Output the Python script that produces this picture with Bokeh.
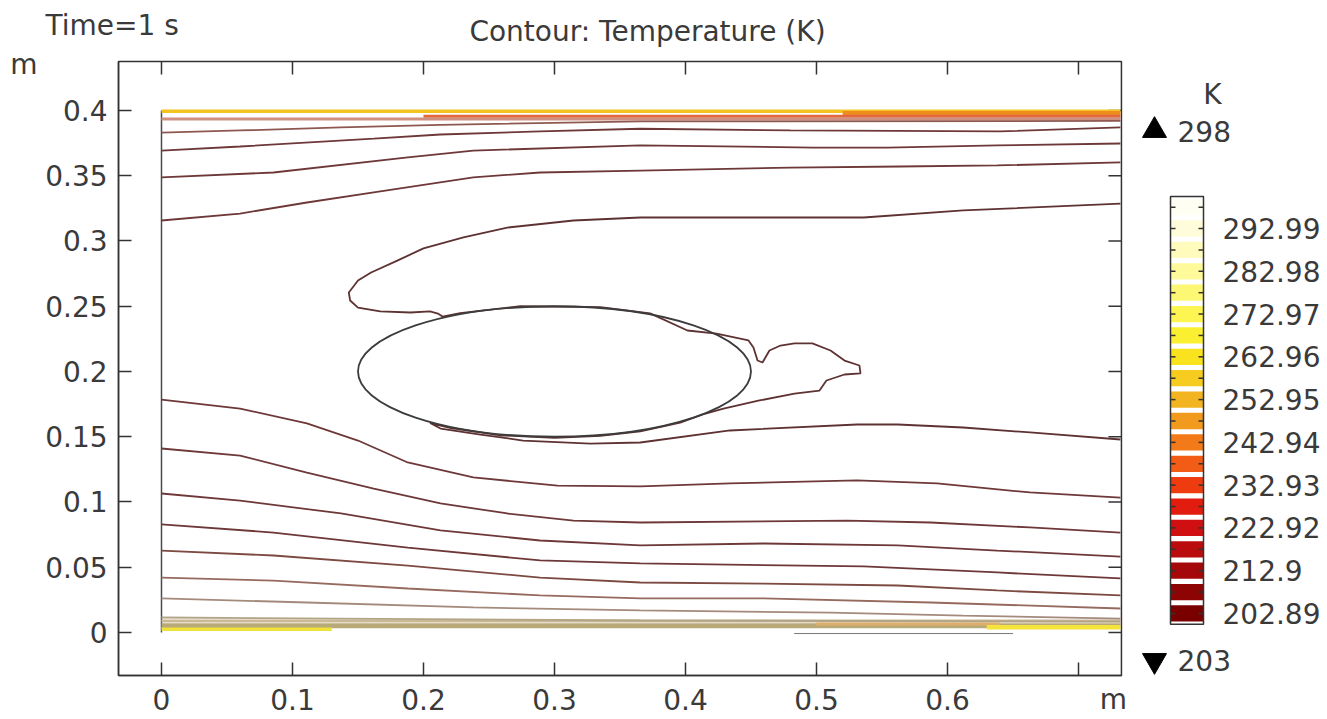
from bokeh.plotting import figure
from bokeh.models import Range1d, LinearAxis, FixedTicker, Label
from bokeh.embed import file_html
from bokeh.resources import INLINE
from bokeh.core.properties import value

FONT = "DejaVu Sans"
TXT = "#3a3a3a"
FS = "28px"

# ---------------- data ----------------
x_ticks = [0, 0.1, 0.2, 0.3, 0.4, 0.5, 0.6, 0.7]
x_tick_labels = ["0", "0.1", "0.2", "0.3", "0.4", "0.5", "0.6", ""]
y_ticks = [0, 0.05, 0.1, 0.15, 0.2, 0.25, 0.3, 0.35, 0.4]
y_tick_labels = ["0", "0.05", "0.1", "0.15", "0.2", "0.25", "0.3", "0.35", "0.4"]

# plot box limits (m)
box_x = (-0.0328, 0.7328)
box_y = (-0.033, 0.4375)

# obstacle (ellipse)
ell_x = [0.3]
ell_y = [0.2]
ell_w = [0.3]
ell_h = [0.1]

# upper contour lines
top_a_x = [0, 0.06, 0.137, 0.213, 0.3655, 0.732]
top_a_y = [0.383, 0.3847, 0.387, 0.389, 0.3916, 0.392]
top_b_x = [0, 0.06, 0.162, 0.213, 0.289, 0.3655, 0.48, 0.64, 0.732]
top_b_y = [0.3693, 0.3724, 0.3785, 0.3816, 0.384, 0.386, 0.3847, 0.384, 0.387]
top_c_x = [0, 0.0855, 0.188, 0.238, 0.3655, 0.4977, 0.554, 0.638, 0.732]
top_c_y = [0.3487, 0.3525, 0.364, 0.3693, 0.3732, 0.3716, 0.3716, 0.3732, 0.3747]
top_d_x = [0, 0.06, 0.111, 0.162, 0.238, 0.289, 0.3655, 0.48, 0.564, 0.638, 0.732]
top_d_y = [0.3157, 0.321, 0.3295, 0.3372, 0.3487, 0.3525, 0.354, 0.3563, 0.3571, 0.3579, 0.3602]

# contour wrapping the obstacle (with wake blob)
wrap_x = [0.732, 0.612, 0.536, 0.3655, 0.3145, 0.264, 0.2305, 0.200, 0.180, 0.160,
          0.150, 0.143, 0.144, 0.150, 0.167, 0.190, 0.205, 0.211, 0.2145, 0.228,
          0.274, 0.335, 0.373, 0.4015, 0.4237, 0.4481, 0.4519, 0.455, 0.4588, 0.4641,
          0.4725, 0.4832, 0.4969, 0.5107, 0.5214, 0.5328, 0.5336, 0.5214, 0.5076, 0.5023,
          0.4832, 0.4565, 0.429, 0.4153, 0.396, 0.3655, 0.335, 0.300, 0.259, 0.221,
          0.205, 0.213, 0.2435, 0.276, 0.3275, 0.3655, 0.434, 0.531, 0.562, 0.612,
          0.663, 0.732]
wrap_y = [0.3287, 0.3234, 0.318, 0.318, 0.3157, 0.3103, 0.3027, 0.2943, 0.285, 0.2759,
          0.2697, 0.2605, 0.2544, 0.249, 0.246, 0.2452, 0.246, 0.2444, 0.2421, 0.2447,
          0.2500, 0.2494, 0.2445, 0.2314, 0.2291, 0.2238, 0.2184, 0.2084, 0.2069, 0.2161,
          0.2199, 0.2215, 0.2215, 0.2161, 0.2084, 0.2046, 0.1985, 0.1977, 0.1931, 0.1854,
          0.1831, 0.1778, 0.1716, 0.1678, 0.1608, 0.1542, 0.1506, 0.1492, 0.1511, 0.1567,
          0.1605, 0.1563, 0.1517, 0.1471, 0.1448, 0.1456, 0.1548, 0.1594, 0.1594, 0.1571,
          0.1533, 0.1479]

# lower contour lines
low_p_x = [0, 0.06, 0.111, 0.150, 0.188, 0.238, 0.3023, 0.3655, 0.434, 0.531, 0.592, 0.663, 0.732]
low_p_y = [0.1785, 0.1716, 0.1602, 0.1471, 0.1303, 0.1188, 0.1126, 0.1119, 0.1142, 0.1165, 0.1142, 0.1073, 0.1034]
low_f_x = [0, 0.06, 0.111, 0.162, 0.213, 0.264, 0.3145, 0.3655, 0.5237, 0.587, 0.663, 0.732]
low_f_y = [0.141, 0.1356, 0.1226, 0.1103, 0.0989, 0.0912, 0.0858, 0.0843, 0.0858, 0.0843, 0.0805, 0.0766]
low_g_x = [0, 0.06, 0.137, 0.213, 0.289, 0.3655, 0.4595, 0.562, 0.638, 0.732]
low_g_y = [0.1065, 0.1011, 0.0912, 0.0782, 0.0705, 0.0667, 0.0682, 0.0667, 0.0628, 0.0582]
low_h_x = [0, 0.0855, 0.188, 0.289, 0.3655, 0.536, 0.638, 0.732]
low_h_y = [0.0828, 0.0766, 0.0651, 0.0552, 0.0529, 0.0506, 0.046, 0.0414]
low_i_x = [0, 0.0855, 0.188, 0.289, 0.3655, 0.4595, 0.562, 0.638, 0.732]
low_i_y = [0.0628, 0.059, 0.0513, 0.0421, 0.0383, 0.0375, 0.036, 0.0322, 0.0284]
low_j_x = [0, 0.0855, 0.188, 0.289, 0.3655, 0.4595, 0.587, 0.732]
low_j_y = [0.0421, 0.0398, 0.0337, 0.0284, 0.0261, 0.0261, 0.023, 0.0184]
low_k_x = [0, 0.111, 0.238, 0.3655, 0.5107, 0.612, 0.732]
low_k_y = [0.0261, 0.023, 0.0192, 0.0169, 0.0153, 0.013, 0.0107]
low_l_x = [0, 0.3655, 0.732]
low_l_y = [0.0115, 0.0092, 0.0084]

# boundary-layer bands (dense contours at walls)
band_top_x = [[0, 0.732], [0.52, 0.732], [0.2, 0.732], [0, 0.732]]
band_top_y = [[0.3995, 0.3995], [0.398, 0.398], [0.3955, 0.3955], [0.3935, 0.3935]]
band_top_c = ["#f3c320", "#ee8c1e", "#e4683c", "#d09080"]
band_top_w = [3.5, 4, 3, 3]
band_bot_x = [[0, 0.732], [0, 0.732], [0.5, 0.64], [0, 0.13], [0.63, 0.732], [0.483, 0.65]]
band_bot_y = [[0.0088, 0.0088], [0.0052, 0.0052], [0.0066, 0.0066], [0.0025, 0.0025], [0.004, 0.004], [-0.0008, -0.0008]]
band_bot_c = ["#cbb894", "#b8aa78", "#dfae6a", "#efe23a", "#f4e43c", "#777777"]
band_bot_w = [3, 5, 3, 3.5, 4.5, 1]

# colour legend
levels = [202.89, 207.9, 212.9, 217.91, 222.92, 227.92, 232.93, 237.93, 242.94, 247.94,
          252.95, 257.95, 262.96, 267.96, 272.97, 277.97, 282.98, 287.98, 292.99, 297.99]
level_colors = ["#7a0000", "#8e0303", "#a40808", "#ba0c0c", "#d01010", "#e21c0e",
                "#ee3c10", "#f25c14", "#f27a18", "#f29a1e", "#f2b420", "#f6cc20",
                "#f9e21e", "#fbef32", "#fcf552", "#fdf874", "#fefa9a", "#fffbbc",
                "#fffcda", "#fffef2"]
label_levels = [202.89, 212.9, 222.92, 232.93, 242.94, 252.95, 262.96, 272.97, 282.98, 292.99]
label_texts = ["202.89", "212.9", "222.92", "232.93", "242.94", "252.95", "262.96", "272.97", "282.98", "292.99"]
t_max = 298
t_min = 203

# ---------------- figure: frame covers the whole canvas ----------------
W, H = 1327, 719
p = figure(width=W, height=H,
           x_range=Range1d(-0.1229, 0.8901), y_range=Range1d(-0.06667, 0.48429),
           output_backend="svg", toolbar_location=None,
           x_axis_type=None, y_axis_type=None, min_border=0)
p.grid.visible = False
p.outline_line_color = None
p.background_fill_color = "white"
p.border_fill_color = "white"

# legend coordinate system: x in pixels relative to legend column, y in kelvin
CB_BOT, CB_TOP = 178.08, 346.35
p.extra_x_ranges = {"cb": Range1d(-1140, 187)}
p.extra_y_ranges = {"K": Range1d(CB_BOT, CB_TOP)}

# plot box
p.quad(left=[box_x[0]], right=[box_x[1]], bottom=[box_y[0]], top=[box_y[1]],
       fill_color=None, line_color="#333333", line_width=1.5)

xb = LinearAxis(ticker=FixedTicker(ticks=x_ticks), fixed_location=box_y[0], bounds=box_x)
yl = LinearAxis(ticker=FixedTicker(ticks=y_ticks), fixed_location=box_x[0], bounds=box_y)
xb.major_label_overrides = {t: s for t, s in zip(x_ticks, x_tick_labels)}
yl.major_label_overrides = {t: s for t, s in zip(y_ticks, y_tick_labels)}
xb.major_label_standoff = 13
yl.major_label_standoff = 11
for ax in (xb, yl):
    ax.major_label_text_font_size = FS
    ax.major_tick_in = 13
    ax.major_tick_out = 0
    ax.minor_tick_in = 0
    ax.minor_tick_out = 0
    ax.axis_line_color = "#333333"
    ax.axis_line_width = 1.5
    ax.major_tick_line_color = "#333333"
    ax.major_tick_line_width = 1.5
    ax.major_label_text_font = FONT
    ax.major_label_text_color = TXT
p.add_layout(xb, "below")
p.add_layout(yl, "left")

# mirrored inward ticks on top and right edges
TICK_Y = 13.0 / 1305
TICK_X = 13.0 / 1310
p.segment(x0=x_ticks, x1=x_ticks, y0=[box_y[1]] * len(x_ticks),
          y1=[box_y[1] - TICK_Y] * len(x_ticks), line_color="#333333", line_width=1.5)
p.segment(x0=[box_x[1]] * len(y_ticks), x1=[box_x[1] - TICK_X] * len(y_ticks),
          y0=y_ticks, y1=y_ticks, line_color="#333333", line_width=1.5)

# geometry left edge
p.line([0, 0], [0, 0.4], line_color="#4a4a4a", line_width=1.5)

# wall bands
p.multi_line(band_top_x, band_top_y, line_color=band_top_c, line_width=band_top_w)
p.multi_line(band_bot_x, band_bot_y, line_color=band_bot_c, line_width=band_bot_w)

# contour lines
dark = "#6e3838"
p.line(top_a_x, top_a_y, line_color="#8e5850", line_width=1.8)
for xs, ys in [(top_b_x, top_b_y), (top_c_x, top_c_y), (top_d_x, top_d_y),
               (low_p_x, low_p_y), (low_f_x, low_f_y), (low_g_x, low_g_y), (low_h_x, low_h_y)]:
    p.line(xs, ys, line_color=dark, line_width=1.8)
p.line(low_i_x, low_i_y, line_color="#7d4a42", line_width=1.8)
p.line(low_j_x, low_j_y, line_color="#966a5e", line_width=1.8)
p.line(low_k_x, low_k_y, line_color="#a48a7c", line_width=1.8)
p.line(low_l_x, low_l_y, line_color="#b2a487", line_width=1.8)
p.line(wrap_x, wrap_y, line_color="#5e3232", line_width=1.8)

p.ellipse(x=ell_x, y=ell_y, width=ell_w, height=ell_h, fill_color=None,
          line_color="#3c3c3c", line_width=1.8)

# texts
for txt, x, y, align in [("Time=1 s", -0.0885, 0.4651, "left"),
                         ("Contour: Temperature (K)", 0.371, 0.4605, "center"),
                         ("m", -0.105, 0.4352, "center"),
                         ("m", 0.7267, -0.0515, "center")]:
    p.add_layout(Label(x=x, y=y, text=txt, text_font=FONT, text_font_size=FS,
                       text_color=TXT, text_align=align, text_baseline="middle"))

# ---------------- colour legend ----------------
def cb_y(px):
    return CB_TOP - px * (CB_TOP - CB_BOT) / H


step = levels[1] - levels[0]
p.rect(x=[46.5] * len(levels), y=levels, width=33, height=step * 0.76,
       fill_color=level_colors, line_color=None, x_range_name="cb", y_range_name="K")
bar_lo = levels[0] - step / 2
bar_hi = levels[-1] + step / 2
p.quad(left=[30], right=[63], bottom=[bar_lo], top=[bar_hi], fill_color=None,
       line_color="#333333", line_width=1.5, x_range_name="cb", y_range_name="K")
p.segment(x0=[30] * len(levels), x1=[35] * len(levels), y0=levels, y1=levels,
          line_color="#333333", line_width=1.5, x_range_name="cb", y_range_name="K")
p.segment(x0=[58] * len(levels), x1=[63] * len(levels), y0=levels, y1=levels,
          line_color="#333333", line_width=1.5, x_range_name="cb", y_range_name="K")
p.text(x=[82] * len(label_levels), y=label_levels, text=label_texts,
       text_font=value(FONT), text_font_size=FS, text_color=TXT,
       text_baseline="middle", text_align="left", x_range_name="cb", y_range_name="K")

p.text(x=[72], y=[cb_y(94)], text=["K"], text_font=value(FONT), text_font_size=FS,
       text_color=TXT, text_baseline="middle", text_align="center",
       x_range_name="cb", y_range_name="K")
p.scatter(x=[14], y=[cb_y(130)], marker="triangle", size=24, fill_color="black",
          line_color="black", x_range_name="cb", y_range_name="K")
p.text(x=[37], y=[cb_y(131)], text=[str(t_max)], text_font=value(FONT), text_font_size=FS,
       text_color=TXT, text_baseline="middle", text_align="left",
       x_range_name="cb", y_range_name="K")
p.scatter(x=[14], y=[cb_y(660)], marker="inverted_triangle", size=24, fill_color="black",
          line_color="black", x_range_name="cb", y_range_name="K")
p.text(x=[37], y=[cb_y(660)], text=[str(t_min)], text_font=value(FONT), text_font_size=FS,
       text_color=TXT, text_baseline="middle", text_align="left",
       x_range_name="cb", y_range_name="K")

open("out.html", "w").write(file_html(p, INLINE))
